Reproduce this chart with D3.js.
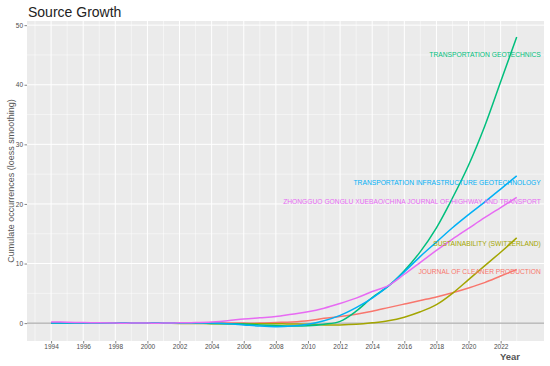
<!DOCTYPE html>
<html>
<head>
<meta charset="utf-8">
<script src="https://cdn.jsdelivr.net/npm/d3@7"></script>
<style>
  body { margin: 0; background: #fff; }
  svg { display: block; font-family: "Liberation Sans", Arial, sans-serif; }
</style>
</head>
<body>
<div id="chart"></div>
<script>
var years = d3.range(1994, 2024);

var sources = [
	"JOURNAL OF CLEANER PRODUCTION",
	"SUSTAINABILITY (SWITZERLAND)",
	"TRANSPORTATION GEOTECHNICS",
	"TRANSPORTATION INFRASTRUCTURE GEOTECHNOLOGY",
	"ZHONGGUO GONGLU XUEBAO/CHINA JOURNAL OF HIGHWAY AND TRANSPORT"
];

// loess-smoothed cumulative occurrences, one value per year 1994..2023
var cleaner = [0, 0, 0, 0, 0, 0, 0, 0, 0, 0, 0, 0, 0, 0, 0.1, 0.2,
	0.4, 0.8, 1.1, 1.5, 2.0, 2.6, 3.2, 3.8, 4.4, 5.1, 5.9, 6.8, 7.9, 9.0];
var sustain = [0, 0, 0, 0, 0, 0, 0, 0, -0.05, -0.05, -0.1, -0.1, -0.1, -0.1, -0.1, -0.15,
	-0.2, -0.3, -0.3, -0.2, 0.05, 0.4, 1.0, 1.9, 3.1, 5.0, 7.3, 9.6, 11.9, 14.3];
var geotech = [0, 0, 0, 0, 0, 0, 0, 0, 0, 0, -0.05, -0.1, -0.15, -0.3, -0.4, -0.5,
	-0.45, -0.2, 0.3, 2.0, 4.3, 6.2, 8.8, 12.0, 16.0, 21.0, 26.5, 33.0, 40.5, 48.0];
var infra = [0, 0, 0, 0, 0, 0, 0, 0, 0, 0, 0, -0.1, -0.3, -0.5, -0.6, -0.5,
	-0.2, 0.4, 1.3, 2.6, 4.2, 6.2, 8.6, 11.2, 13.6, 16.0, 18.2, 20.3, 22.5, 24.7];
var zhongguo = [0.2, 0.15, 0.1, 0.05, 0, 0, 0, 0, 0.05, 0.1, 0.2, 0.4, 0.7, 0.9, 1.1, 1.5,
	1.9, 2.5, 3.3, 4.2, 5.3, 6.3, 8.2, 10.2, 12.2, 14.1, 15.9, 17.7, 19.4, 21.1];

var xTicks = d3.range(1994, 2023, 2);
var yTicks = [0, 10, 20, 30, 40, 50];

var colors = ["#F8766D", "#A3A500", "#00BF7D", "#00B0F6", "#E76BF3"];

var series = [cleaner, sustain, geotech, infra, zhongguo].map(function(vals, i) {
	return {
		name: sources[i],
		color: colors[i],
		values: vals.map(function(v, j) { return {year: years[j], value: v}; })
	};
});

var width = 550, height = 366;
var panel = {left: 27, right: 544, top: 21, bottom: 341};

var x = d3.scaleLinear().domain([1992.5, 2024.7]).range([panel.left, panel.right]);
var y = d3.scaleLinear().domain([-3, 50.7]).range([panel.bottom, panel.top]);

var svg = d3.select("#chart").append("svg")
	.attr("width", width)
	.attr("height", height);

svg.append("rect")
	.attr("x", panel.left).attr("y", panel.top)
	.attr("width", panel.right - panel.left)
	.attr("height", panel.bottom - panel.top)
	.attr("fill", "#EBEBEB");

// minor grid
var g = svg.append("g");
g.selectAll(".xminor").data(d3.range(1993, 2025, 2)).enter().append("line")
	.attr("x1", function(d) { return x(d); }).attr("x2", function(d) { return x(d); })
	.attr("y1", panel.top).attr("y2", panel.bottom)
	.attr("stroke", "#fff").attr("stroke-width", 0.5);
g.selectAll(".yminor").data([5, 15, 25, 35, 45]).enter().append("line")
	.attr("x1", panel.left).attr("x2", panel.right)
	.attr("y1", function(d) { return y(d); }).attr("y2", function(d) { return y(d); })
	.attr("stroke", "#fff").attr("stroke-width", 0.5);
// major grid
g.selectAll(".xmajor").data(xTicks).enter().append("line")
	.attr("x1", function(d) { return x(d); }).attr("x2", function(d) { return x(d); })
	.attr("y1", panel.top).attr("y2", panel.bottom)
	.attr("stroke", "#fff").attr("stroke-width", 1);
g.selectAll(".ymajor").data(yTicks).enter().append("line")
	.attr("x1", panel.left).attr("x2", panel.right)
	.attr("y1", function(d) { return y(d); }).attr("y2", function(d) { return y(d); })
	.attr("stroke", "#fff").attr("stroke-width", 1);

// axes
var xAxis = svg.append("g")
	.attr("transform", "translate(0," + panel.bottom + ")")
	.call(d3.axisBottom(x).tickValues(xTicks).tickFormat(d3.format("d")).tickSize(2.5).tickPadding(1.2));
var yAxis = svg.append("g")
	.attr("transform", "translate(" + panel.left + ",0)")
	.call(d3.axisLeft(y).tickValues(yTicks).tickSize(2.5).tickPadding(1.5));
[xAxis, yAxis].forEach(function(a) {
	a.select(".domain").remove();
	a.selectAll(".tick line").attr("stroke", "#333").attr("stroke-width", 0.6);
	a.selectAll(".tick text").attr("fill", "#4D4D4D").style("font-size", "6.5px")
		.style("font-family", "'Liberation Sans', Arial, sans-serif");
});

// zero reference line
svg.append("line")
	.attr("x1", panel.left).attr("x2", panel.right)
	.attr("y1", y(0)).attr("y2", y(0))
	.attr("stroke", "#999").attr("stroke-width", 1);

var line = d3.line()
	.x(function(d) { return x(d.year); })
	.y(function(d) { return y(d.value); })
	.curve(d3.curveCatmullRom);

svg.selectAll(".series").data(series).enter().append("path")
	.attr("d", function(d) { return line(d.values); })
	.attr("fill", "none")
	.attr("stroke", function(d) { return d.color; })
	.attr("stroke-width", 1.5);

// labels sit just below each curve's end
var labelDrop = [0.4, 1.0, 2.9, 1.2, 0.8];
svg.selectAll(".lbl").data(series).enter().append("text")
	.attr("x", x(2024.5))
	.attr("y", function(d, i) { return y(d.values[d.values.length - 1].value - labelDrop[i]) + 2.3; })
	.attr("text-anchor", "end")
	.attr("fill", function(d) { return d.color; })
	.style("font-size", "6.7px")
	.text(function(d) { return d.name; });

svg.append("text")
	.attr("x", 28).attr("y", 17)
	.attr("fill", "#222")
	.style("font-size", "14px")
	.text("Source Growth");

svg.append("text")
	.attr("transform", "translate(14," + ((panel.top + panel.bottom) / 2) + ") rotate(-90)")
	.attr("text-anchor", "middle")
	.attr("fill", "#555")
	.style("font-size", "9px")
	.text("Cumulate occurrences (loess smoothing)");

svg.append("text")
	.attr("x", 510).attr("y", 360)
	.attr("text-anchor", "middle")
	.attr("fill", "#555")
	.style("font-size", "9.5px")
	.style("font-weight", "bold")
	.text("Year");
</script>
</body>
</html>
